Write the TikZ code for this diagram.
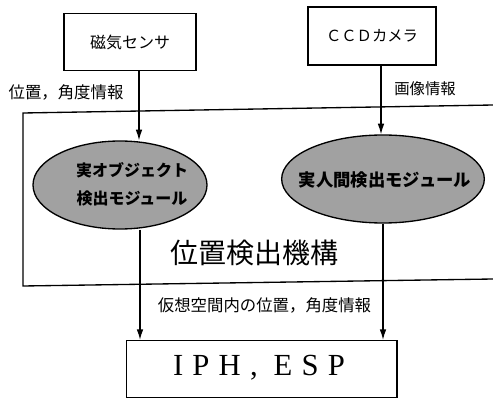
\documentclass[tikz,border=0pt]{standalone}
\usepackage{fontspec}
\setmainfont{Liberation Serif}
\newfontfamily\jp{Noto Sans CJK JP}
\usetikzlibrary{shapes.geometric,arrows.meta}
\begin{document}
\begin{tikzpicture}[x=0.75pt,y=-0.75pt,
  box/.style={draw, line width=1pt, inner sep=0pt},
  ell/.style={ellipse, draw, line width=1pt, fill=black!37, inner sep=0pt},
  lab/.style={inner sep=0pt, font=\jp\fontsize{12.3}{14}\selectfont},
  arr/.style={line width=1pt, -{Latex[length=8pt,width=5pt]}},
  frame/.style={line width=1pt}]
\useasboundingbox (0,0) rectangle (493,399);
% boxes
\node[box, minimum width=99pt, minimum height=42.75pt, font=\jp\fontsize{12}{14}\selectfont] (mag) at (130,42) {磁気センサ};
\node[box, minimum width=96pt, minimum height=43.5pt, font=\jp\fontsize{11.5}{14}\selectfont] (ccd) at (372,36) {ＣＣＤカメラ};
\node[box, minimum width=203pt, minimum height=42.5pt] (iph) at (261.5,369) {};
\node[inner sep=0pt, font=\fontsize{23}{26}\selectfont\addfontfeature{LetterSpace=30}] (iapt) at (259,368) {IPH,\hspace{12pt}ESP};
% ellipses
\node[ell, minimum width=130.5pt, minimum height=66pt] (obj) at (120,185) {};
\node[inner sep=0pt, align=center, font=\jp\bfseries\fontsize{12}{21}\selectfont] (objt) at (132,184) {実オブジェクト\\検出モジュール};
\node[ell, minimum width=152pt, minimum height=66pt] (hum) at (383,179) {};
\node[inner sep=0pt, font=\jp\bfseries\fontsize{13}{15}\selectfont] (humt) at (385,180) {実人間検出モジュール};
% frame
\coordinate (ftr) at (493,105);
\coordinate (ftl) at (23,113);
\coordinate (fbl) at (23,286);
\coordinate (fbr) at (493,279);
\draw[frame] (ftr) -- (ftl) -- (fbl) -- (fbr);
\node[inner sep=0pt, font=\jp\fontsize{21}{24}\selectfont] (mech) at (254,253) {位置検出機構};
% labels
\node[lab] (l1) at (66,92) {位置，角度情報};
\node[lab, font=\jp\fontsize{11.5}{14}\selectfont] (l2) at (425,89) {画像情報};
\node[lab] (l3) at (264.5,305) {仮想空間内の位置，角度情報};
% arrows
\coordinate (ax) at (139,0);
\coordinate (bx) at (381,0);
\coordinate (cx) at (140,0);
\coordinate (dx) at (383,0);
\draw[arr] (mag.south -| ax) -- (obj.north -| ax);
\draw[arr] (ccd.south -| bx) -- (hum.north -| bx);
\draw[arr] (obj.south -| cx) -- (iph.north -| cx);
\draw[arr] (hum.south -| dx) -- (iph.north -| dx);
\end{tikzpicture}
\end{document}
